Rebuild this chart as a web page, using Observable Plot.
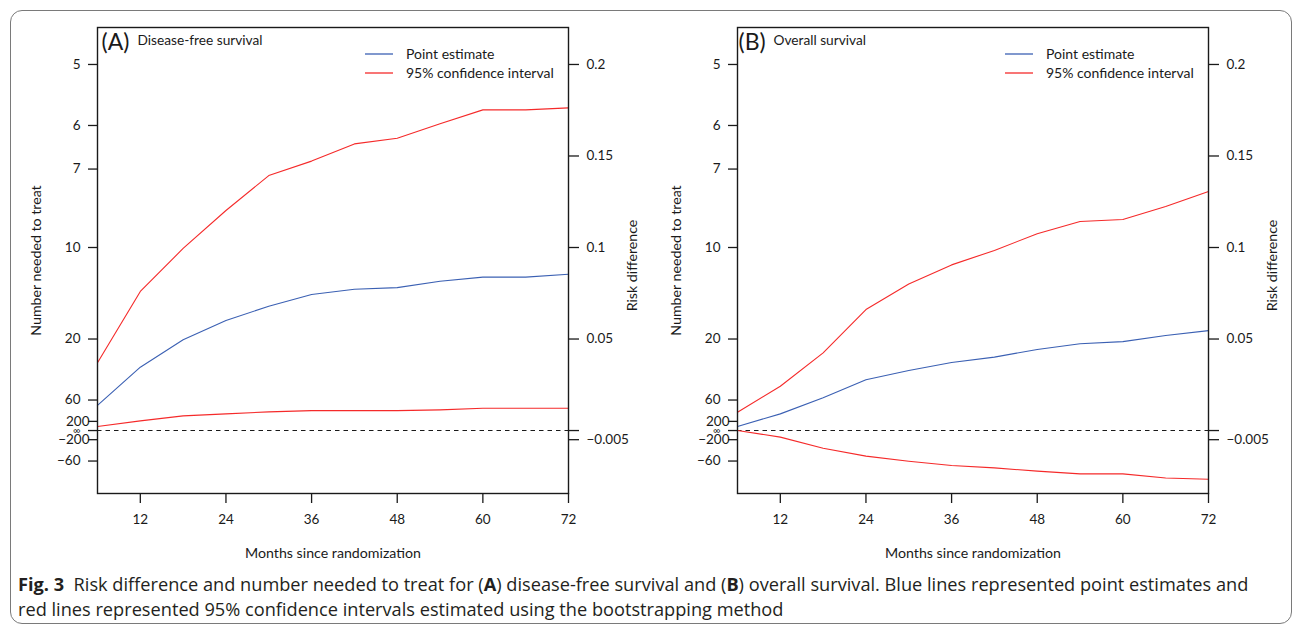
<!DOCTYPE html>
<html><head><meta charset="utf-8">
<script src="https://cdn.jsdelivr.net/npm/d3@7"></script>
<script src="https://cdn.jsdelivr.net/npm/@observablehq/plot@0.6"></script>
<style>
body{margin:0;background:#fff;}
#border{position:absolute;left:10px;top:10px;width:1282px;height:614px;border:1.5px solid #7a7a7a;border-radius:12px;box-sizing:border-box;}
#charts{position:absolute;left:0;top:0;width:1293px;height:570px;}
.panel{position:absolute;top:0;width:640px;height:570px;}
.legend{position:absolute;top:44px;font-family:Lato,sans-serif;font-size:14px;color:#1a1a1a;line-height:19px;}
.legend div{display:flex;align-items:center;}
.legend svg{margin-right:13px;}
#caption{position:absolute;left:18px;top:572px;font-family:"Open Sans",sans-serif;font-size:18.2px;line-height:25px;color:#231f20;}
#caption div{white-space:nowrap;}
</style></head>
<body>
<div id="border"></div>
<div id="charts"></div>
<div id="caption">
<div><span><b>Fig. 3</b></span><span>&nbsp; Risk difference and number needed to treat for (</span><span><b>A</b></span><span>) disease-free survival and (</span><span><b>B</b></span><span>) overall survival. Blue lines represented point estimates and</span></div>
<div><span>red lines represented 95% confidence intervals estimated using the bootstrapping method</span></div>
</div>
<script>
// ---- data (risk difference) ----
const months = [6, 12, 18, 24, 30, 36, 42, 48, 54, 60, 66, 72];
const dfsPoint = [0.0137, 0.0346, 0.0496, 0.0601, 0.0679, 0.0743, 0.0772, 0.0781, 0.0816, 0.0838, 0.0838, 0.0854];
const dfsUpper = [0.0370, 0.0760, 0.0995, 0.1202, 0.1393, 0.1472, 0.1566, 0.1597, 0.1676, 0.1752, 0.1752, 0.1763];
const dfsLower = [0.0022, 0.0053, 0.0080, 0.0091, 0.0102, 0.0109, 0.0109, 0.0109, 0.0113, 0.0122, 0.0122, 0.0122];
const osPoint = [0.0022, 0.0091, 0.0179, 0.0277, 0.0328, 0.0372, 0.0401, 0.0443, 0.0474, 0.0486, 0.0519, 0.0546];
const osUpper = [0.0100, 0.0242, 0.0424, 0.0661, 0.0801, 0.0905, 0.0984, 0.1075, 0.1142, 0.1153, 0.1224, 0.1306];
const osLower = [0.0000, -0.0036, -0.0097, -0.0140, -0.0168, -0.0191, -0.0204, -0.0222, -0.0237, -0.0237, -0.0259, -0.0266];

const xTicks = [12, 24, 36, 48, 60, 72];
const nntTicks = [5, 6, 7, 10, 20, 60, -60];
const nntTicksWide = [200, -200];
const rdTicks = [0.2, 0.15, 0.1, 0.05, -0.005];
const legendLabels = ["Point estimate", "95% confidence interval"];

const BLUE = "#3b60b3", RED = "#f52a2a", INK = "#1a1a1a";
const FONT = "Lato, sans-serif";
const minus = s => String(s).replace("-", "\u2212");

function panel(point, upper, lower, tag, title, tagDx, titleDx) {
  const rows = months.map((m, i) => ({m, point: point[i], upper: upper[i], lower: lower[i]}));
  return Plot.plot({
    width: 640, height: 570,
    marginLeft: 97, marginRight: 72, marginTop: 27, marginBottom: 77,
    style: {fontFamily: FONT, fontSize: "13.5px", color: INK, background: "transparent"},
    x: {domain: [6, 72]},
    y: {domain: [-0.0344, 0.2202]},
    marks: [
      Plot.ruleY([0], {stroke: INK, strokeWidth: 1.1, strokeDasharray: "4.5,4"}),
      Plot.line(rows, {x: "m", y: "upper", stroke: RED, strokeWidth: 1.1}),
      Plot.line(rows, {x: "m", y: "lower", stroke: RED, strokeWidth: 1.1}),
      Plot.line(rows, {x: "m", y: "point", stroke: BLUE, strokeWidth: 1.1}),
      Plot.frame({stroke: INK, strokeWidth: 1.4}),
      Plot.axisX({ticks: xTicks, tickSize: 10, tickPadding: 11, label: null, tickFormat: d => String(d), strokeWidth: 1.3}),
      Plot.axisY({anchor: "left", ticks: nntTicks.map(n => 1 / n), tickFormat: d => minus(Math.round(1 / d)), tickSize: 9, tickPadding: 8, label: null, strokeWidth: 1.3}),
      Plot.axisY({anchor: "left", ticks: nntTicksWide.map(n => 1 / n), tickFormat: d => minus(Math.round(1 / d)), tickSize: 9, tickPadding: -1, label: null, strokeWidth: 1.3}),
      Plot.axisY({anchor: "left", ticks: [0], tickFormat: () => "\u221e", tickSize: 9, tickPadding: 8, fontSize: 10, label: null, strokeWidth: 1.3}),
      Plot.axisY({anchor: "right", ticks: rdTicks, tickFormat: d => minus(d), tickSize: 10, tickPadding: 8, label: null, strokeWidth: 1.3}),
      Plot.axisY({anchor: "right", ticks: [0], tickFormat: () => "", tickSize: 10, label: null, strokeWidth: 1.3}),
      Plot.text(["Number needed to treat"], {frameAnchor: "left", dx: -61, rotate: -90, textAnchor: "middle", fontSize: 14.2, fill: INK}),
      Plot.text(["Risk difference"], {frameAnchor: "right", dx: 64, dy: 5, rotate: -90, textAnchor: "middle", fontSize: 14.2, fill: INK}),
      Plot.text(["Months since randomization"], {frameAnchor: "bottom", dy: 64, fontSize: 14.2, fill: INK}),
      Plot.text([tag], {frameAnchor: "top-left", dx: tagDx, dy: 15, textAnchor: "start", lineAnchor: "middle", fontSize: 23, fill: INK}),
      Plot.text([title], {frameAnchor: "top-left", dx: titleDx, dy: 13, textAnchor: "start", lineAnchor: "middle", fontSize: 13.7, fill: INK})
    ]
  });
}

function legend(left) {
  const el = document.createElement("div");
  el.className = "legend";
  el.style.left = left + "px";
  [BLUE, RED].forEach((c, i) => {
    const row = document.createElement("div");
    row.innerHTML = `<svg width="28" height="4"><line x1="0" x2="28" y1="2" y2="2" stroke="${c}" stroke-width="1.3"/></svg><span>${legendLabels[i]}</span>`;
    el.appendChild(row);
  });
  return el;
}

const charts = document.getElementById("charts");
[[dfsPoint, dfsUpper, dfsLower, "(A)", "Disease-free survival", 4, 40, 0],
 [osPoint, osUpper, osLower, "(B)", "Overall survival", 1, 36, 640]].forEach(([p, u, l, tag, title, tdx, ttdx, off]) => {
  const wrap = document.createElement("div");
  wrap.className = "panel";
  wrap.style.left = off + "px";
  wrap.appendChild(panel(p, u, l, tag, title, tdx, ttdx));
  wrap.appendChild(legend(365));
  charts.appendChild(wrap);
});
</script>
</body></html>
